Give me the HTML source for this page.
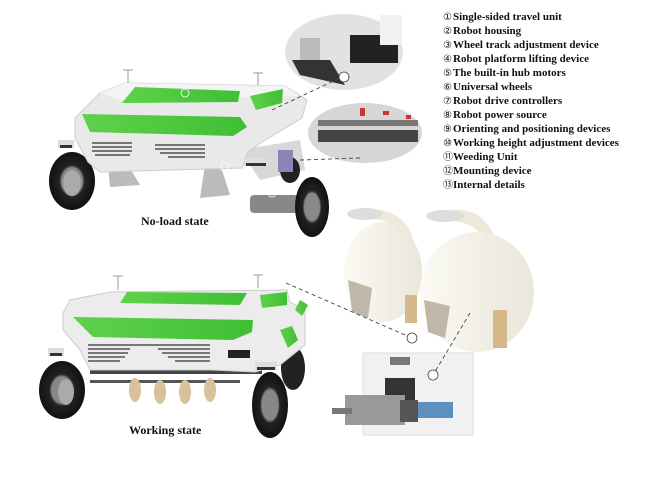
<!DOCTYPE html>
<html><head><meta charset="utf-8"><style>
html,body{margin:0;padding:0;background:#fff;}
#c{position:relative;width:657px;height:481px;overflow:hidden;background:#fff;}
.leg{position:absolute;left:443px;top:10px;font:bold 11px "Liberation Serif",serif;color:#111;}
.leg div{height:14px;line-height:14px;white-space:nowrap}
.leg span{display:inline-block;width:10px;font-weight:normal;font-size:10px;line-height:14px}
.lab{position:absolute;font:bold 12px "Liberation Serif",serif;color:#111;}
</style></head><body><div id="c">
<svg width="657" height="481" style="position:absolute;left:0;top:0">
<defs>
<radialGradient id="tire" cx="50%" cy="50%" r="50%"><stop offset="0.45" stop-color="#888"/><stop offset="0.55" stop-color="#222"/><stop offset="1" stop-color="#111"/></radialGradient>
<linearGradient id="grn" x1="0" x2="1"><stop offset="0" stop-color="#5fd14a"/><stop offset="1" stop-color="#3fbf35"/></linearGradient>
<linearGradient id="dome" x1="0" x2="1"><stop offset="0" stop-color="#fbfaf3"/><stop offset="1" stop-color="#e9e6da"/></linearGradient>
</defs>
<!-- TOP ROBOT -->
<line x1="128" y1="70" x2="128" y2="84" stroke="#999"/><line x1="123" y1="70" x2="133" y2="70" stroke="#999"/>
<line x1="258" y1="73" x2="258" y2="86" stroke="#999"/><line x1="253" y1="73" x2="263" y2="73" stroke="#999"/>
<ellipse cx="72" cy="181" rx="23" ry="29" fill="url(#tire)"/>
<ellipse cx="72" cy="183" rx="9" ry="13" fill="#aaa"/>
<polygon points="108,165 128,165 140,185 110,187" fill="#bbb"/>
<polygon points="205,165 222,170 230,195 200,198" fill="#bbb"/>
<polygon points="240,150 300,140 305,170 260,180" fill="#d8d8d8"/>
<rect x="250" y="195" width="50" height="18" rx="4" fill="#888"/>
<ellipse cx="312" cy="207" rx="17" ry="30" fill="url(#tire)"/>
<ellipse cx="290" cy="170" rx="10" ry="13" fill="#222"/>
<rect x="278" y="150" width="15" height="22" fill="#8a84b8"/>
<polygon points="75,118 100,93 125,83 285,86 307,100 302,118 262,142 248,152 242,168 100,172 88,162 75,138" fill="#e9e9e9" stroke="#ccc"/>
<polygon points="100,93 125,83 285,86 300,96 120,100" fill="#f4f4f4"/>
<polygon points="122,103 135,87 240,91 238,102" fill="url(#grn)"/>
<polygon points="250,96 283,89 282,103 256,110" fill="url(#grn)"/>
<polygon points="82,114 240,117 247,127 233,136 90,132" fill="url(#grn)"/>
<g stroke="#333" stroke-width="1.3">
<line x1="92" y1="143" x2="132" y2="143"/><line x1="92" y1="147" x2="132" y2="147"/><line x1="92" y1="151" x2="132" y2="151"/><line x1="95" y1="155" x2="130" y2="155"/>
<line x1="155" y1="145" x2="205" y2="145"/><line x1="155" y1="149" x2="205" y2="149"/><line x1="160" y1="153" x2="205" y2="153"/><line x1="168" y1="157" x2="205" y2="157"/>
</g>
<rect x="58" y="140" width="16" height="8" fill="#ddd"/><rect x="60" y="145" width="12" height="3" fill="#333"/>
<rect x="244" y="158" width="24" height="8" fill="#ddd"/><rect x="246" y="163" width="20" height="3" fill="#333"/>
<g fill="none" stroke="#fff" stroke-width="0.8">
<circle cx="185" cy="93" r="4"/><circle cx="225" cy="166" r="4"/><circle cx="272" cy="193" r="4"/></g>
<!-- callout circles -->
<ellipse cx="344" cy="52" rx="59" ry="38" fill="#e2e2e2"/>
<path d="M292,60 L330,60 L345,85 L300,75 Z" fill="#333"/>
<rect x="350" y="35" width="48" height="28" fill="#222"/>
<rect x="300" y="38" width="20" height="22" fill="#bbb"/>
<rect x="380" y="15" width="22" height="30" fill="#f2f2f2"/>
<ellipse cx="365" cy="133" rx="57" ry="30" fill="#d6d6d6"/>
<rect x="318" y="120" width="100" height="6" fill="#777"/>
<rect x="318" y="130" width="100" height="12" fill="#444"/>
<rect x="360" y="108" width="5" height="8" fill="#c33"/><rect x="383" y="111" width="6" height="4" fill="#c33"/><rect x="406" y="115" width="5" height="4" fill="#c33"/>
<!-- WEEDING UNITS -->
<path d="M355,213 Q380,205 395,215 Q412,225 414,245 L404,243 Q398,222 378,220 Z" fill="#eeeada"/>
<ellipse cx="365" cy="214" rx="18" ry="6" fill="#ddd"/>
<ellipse cx="383" cy="272" rx="39" ry="50" fill="url(#dome)"/>
<path d="M348,280 L372,288 L368,318 L352,312 Z" fill="#bfb8a8"/>
<rect x="405" y="295" width="12" height="28" fill="#d6b98a"/>
<path d="M430,213 Q460,205 478,215 Q495,228 498,250 L486,246 Q480,225 458,222 Z" fill="#eeeada"/>
<ellipse cx="445" cy="216" rx="19" ry="6" fill="#ddd"/>
<ellipse cx="477" cy="292" rx="57" ry="60" fill="url(#dome)"/>
<path d="M424,300 L450,306 L445,338 L428,332 Z" fill="#bfb8a8"/>
<rect x="493" y="310" width="14" height="38" fill="#d6b98a"/>
<!-- MOUNTING DEVICE -->
<rect x="363" y="353" width="110" height="82" fill="#f1f1f1" stroke="#ddd"/>
<rect x="390" y="357" width="20" height="8" fill="#777"/>
<rect x="385" y="378" width="30" height="22" fill="#333"/>
<rect x="345" y="395" width="60" height="30" fill="#999"/>
<rect x="332" y="408" width="20" height="6" fill="#777"/>
<rect x="418" y="402" width="35" height="16" fill="#5d8fbf"/>
<rect x="400" y="400" width="18" height="22" fill="#555"/>
<!-- dashed connectors -->
<g stroke="#444" stroke-dasharray="4,3" fill="none" stroke-width="0.9">
<line x1="272" y1="110" x2="342" y2="77"/>
<line x1="300" y1="160" x2="360" y2="158"/>
<line x1="286" y1="283" x2="412" y2="338"/>
<line x1="470" y1="313" x2="433" y2="375"/>
</g>
<circle cx="344" cy="77" r="5" fill="#fff" stroke="#444" stroke-width="0.8"/>
<circle cx="412" cy="338" r="5" fill="#fff" stroke="#444" stroke-width="0.8"/>
<circle cx="433" cy="375" r="5" fill="#fff" stroke="#444" stroke-width="0.8"/>
<!-- BOTTOM ROBOT -->
<line x1="118" y1="276" x2="118" y2="290" stroke="#999"/><line x1="113" y1="276" x2="123" y2="276" stroke="#999"/>
<line x1="258" y1="275" x2="258" y2="288" stroke="#999"/><line x1="253" y1="275" x2="263" y2="275" stroke="#999"/>
<ellipse cx="62" cy="390" rx="23" ry="29" fill="url(#tire)"/>
<ellipse cx="66" cy="392" rx="8" ry="13" fill="#aaa"/>
<rect x="90" y="370" width="172" height="4" fill="#444"/>
<rect x="90" y="380" width="150" height="3" fill="#555"/>
<g fill="#d9c29a"><ellipse cx="135" cy="390" rx="6" ry="12"/><ellipse cx="160" cy="392" rx="6" ry="12"/><ellipse cx="185" cy="392" rx="6" ry="12"/><ellipse cx="210" cy="390" rx="6" ry="12"/></g>
<ellipse cx="293" cy="368" rx="12" ry="22" fill="#222"/>
<ellipse cx="270" cy="405" rx="18" ry="33" fill="url(#tire)"/>
<polygon points="63,313 70,300 110,292 287,290 290,302 305,310 305,345 280,365 255,372 212,370 90,370 80,350 63,330" fill="#ececec" stroke="#ccc"/>
<polygon points="127,292 247,293 240,305 120,303" fill="url(#grn)"/>
<polygon points="260,295 287,292 287,305 262,308" fill="url(#grn)"/>
<polygon points="73,317 253,320 252,332 233,340 93,337" fill="url(#grn)"/>
<polygon points="280,330 292,326 298,340 288,348" fill="url(#grn)"/>
<polygon points="300,300 308,305 302,316 295,310" fill="url(#grn)"/>
<g stroke="#333" stroke-width="1.3">
<line x1="88" y1="345" x2="210" y2="345"/><line x1="88" y1="349" x2="130" y2="349"/><line x1="158" y1="349" x2="210" y2="349"/>
<line x1="88" y1="353" x2="128" y2="353"/><line x1="162" y1="353" x2="210" y2="353"/><line x1="88" y1="357" x2="125" y2="357"/><line x1="168" y1="357" x2="210" y2="357"/><line x1="88" y1="361" x2="120" y2="361"/><line x1="175" y1="361" x2="210" y2="361"/>
</g>
<rect x="228" y="350" width="22" height="8" fill="#222"/>
<rect x="48" y="348" width="16" height="8" fill="#ddd"/><rect x="50" y="353" width="12" height="3" fill="#333"/>
<rect x="255" y="362" width="22" height="8" fill="#ddd"/><rect x="257" y="367" width="18" height="3" fill="#333"/>
</svg>
<div class="lab" style="left:141px;top:214px">No-load state</div>
<div class="lab" style="left:129px;top:423px">Working state</div>
<div class="leg">
<div><span>①</span>Single-sided travel unit</div>
<div><span>②</span>Robot housing</div>
<div><span>③</span>Wheel track adjustment device</div>
<div><span>④</span>Robot platform lifting device</div>
<div><span>⑤</span>The built-in hub motors</div>
<div><span>⑥</span>Universal wheels</div>
<div><span>⑦</span>Robot drive controllers</div>
<div><span>⑧</span>Robot power source</div>
<div><span>⑨</span>Orienting and positioning devices</div>
<div><span>⑩</span>Working height adjustment devices</div>
<div><span>⑪</span>Weeding Unit</div>
<div><span>⑫</span>Mounting device</div>
<div><span>⑬</span>Internal details</div>
</div>
</div></body></html>
